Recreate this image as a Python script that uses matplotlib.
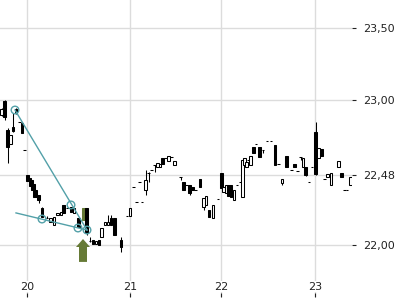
import matplotlib
matplotlib.use("Agg")
import matplotlib.pyplot as plt
import numpy as np
from matplotlib.patches import FancyArrow

## Datos =====================================================================
# posicion en el eje temporal (slots) y OHLC
pos = [1.5, 4.5, 7.5, 10.5, 13, 16, 19.5, 22, 24.5, 27.5, 30, 32, 34, 36, 38.5,
       42, 47, 50.5, 54, 57.5, 61, 63.5, 67.5, 71, 74, 78.5, 83.5, 86.5, 90, 93,
       96, 99, 101.5, 105, 108, 111, 114.5, 121, 127, 130, 133.5, 136.5, 139.5,
       142, 145.5, 148.5, 151.5, 154.5, 157.5, 160, 162.5, 165.5, 168.5, 171.5,
       174.5, 180.5, 183.5, 186.5, 189.5, 192.5, 195.5, 200, 203.5, 206, 209,
       213, 218, 221.5, 223.5, 226, 228.5, 231, 234, 237, 240, 242.5, 244.5,
       246.5, 248.5, 250.5, 253.5, 256, 259.5, 263, 267, 271, 275, 278.5, 282,
       286.5, 291.5, 294.5, 297.5, 300.5, 303, 305.5, 309, 312, 315.5, 318.5,
       321.5, 324.5, 327.5, 331, 338.5, 341.5, 344.5, 347, 350.5]
opens = [22.897, 22.993, 22.793, 22.697, 22.814, 22.938, 22.848, 22.841, 22.655,
         22.483, 22.462, 22.448, 22.421, 22.379, 22.345, 22.255, 22.186, 22.159,
         22.138, 22.207, 22.207, 22.276, 22.255, 22.262, 22.221, 22.186, 22.172,
         22.255, 22.028, 22.034, 22.007, 22.034, 22.055, 22.138, 22.138, 22.186,
         22.186, 22.034, 22.200, 22.200, 22.400, 22.297, 22.434, 22.297, 22.379,
         22.497, 22.517, 22.552, 22.538, 22.538, 22.600, 22.600, 22.579, 22.607,
         22.552, 22.469, 22.434, 22.414, 22.414, 22.400, 22.379, 22.455, 22.262,
         22.276, 22.241, 22.186, 22.317, 22.497, 22.366, 22.359, 22.414, 22.414,
         22.310, 22.414, 22.434, 22.331, 22.552, 22.538, 22.586, 22.552, 22.676,
         22.697, 22.676, 22.655, 22.717, 22.717, 22.690, 22.559, 22.428, 22.614,
         22.517, 22.559, 22.510, 22.607, 22.538, 22.538, 22.434, 22.538, 22.779,
         22.600, 22.662, 22.455, 22.469, 22.414, 22.538, 22.497, 22.379, 22.379,
         22.414]
highs = [22.945, 23.000, 22.807, 22.759, 22.910, 22.945, 22.848, 22.848, 22.655,
         22.483, 22.462, 22.448, 22.421, 22.379, 22.345, 22.262, 22.200, 22.186,
         22.193, 22.221, 22.228, 22.276, 22.255, 22.262, 22.255, 22.186, 22.255,
         22.255, 22.055, 22.034, 22.028, 22.034, 22.117, 22.159, 22.207, 22.207,
         22.186, 22.055, 22.200, 22.255, 22.400, 22.297, 22.434, 22.297, 22.517,
         22.503, 22.517, 22.552, 22.566, 22.559, 22.600, 22.600, 22.614, 22.607,
         22.579, 22.469, 22.434, 22.414, 22.414, 22.400, 22.379, 22.455, 22.324,
         22.338, 22.241, 22.276, 22.317, 22.497, 22.400, 22.414, 22.414, 22.414,
         22.379, 22.414, 22.434, 22.600, 22.600, 22.572, 22.586, 22.614, 22.676,
         22.697, 22.676, 22.655, 22.717, 22.717, 22.690, 22.559, 22.455, 22.614,
         22.517, 22.559, 22.510, 22.607, 22.600, 22.538, 22.434, 22.538, 22.848,
         22.669, 22.662, 22.455, 22.490, 22.497, 22.579, 22.497, 22.379, 22.379,
         22.469]
lows = [22.890, 22.862, 22.566, 22.697, 22.779, 22.903, 22.848, 22.772, 22.655,
        22.441, 22.407, 22.379, 22.331, 22.331, 22.290, 22.193, 22.186, 22.159,
        22.138, 22.207, 22.207, 22.221, 22.255, 22.228, 22.221, 22.124, 22.172,
        22.069, 22.021, 22.007, 22.007, 22.000, 22.055, 22.138, 22.138, 22.138,
        22.069, 21.952, 22.200, 22.200, 22.400, 22.297, 22.434, 22.297, 22.345,
        22.434, 22.517, 22.503, 22.538, 22.538, 22.559, 22.600, 22.579, 22.607,
        22.552, 22.448, 22.379, 22.414, 22.345, 22.379, 22.379, 22.400, 22.241,
        22.276, 22.193, 22.186, 22.317, 22.393, 22.366, 22.359, 22.338, 22.331,
        22.310, 22.414, 22.434, 22.331, 22.552, 22.538, 22.586, 22.552, 22.634,
        22.697, 22.607, 22.634, 22.717, 22.717, 22.552, 22.559, 22.414, 22.538,
        22.517, 22.538, 22.510, 22.586, 22.538, 22.476, 22.434, 22.538, 22.483,
        22.600, 22.614, 22.455, 22.469, 22.414, 22.538, 22.469, 22.379, 22.379,
        22.414]
closes = [22.938, 22.883, 22.676, 22.759, 22.786, 22.910, 22.848, 22.772, 22.655,
          22.441, 22.407, 22.379, 22.331, 22.331, 22.310, 22.193, 22.186, 22.186,
          22.193, 22.221, 22.228, 22.221, 22.255, 22.228, 22.255, 22.124, 22.255,
          22.083, 22.028, 22.007, 22.028, 22.000, 22.117, 22.159, 22.159, 22.138,
          22.069, 21.986, 22.200, 22.255, 22.400, 22.297, 22.434, 22.297, 22.448,
          22.497, 22.517, 22.552, 22.566, 22.559, 22.559, 22.600, 22.614, 22.607,
          22.579, 22.469, 22.379, 22.414, 22.359, 22.379, 22.379, 22.400, 22.324,
          22.338, 22.193, 22.276, 22.317, 22.393, 22.400, 22.414, 22.338, 22.331,
          22.379, 22.414, 22.434, 22.586, 22.600, 22.572, 22.586, 22.614, 22.634,
          22.697, 22.607, 22.655, 22.717, 22.717, 22.552, 22.559, 22.455, 22.538,
          22.517, 22.538, 22.510, 22.607, 22.600, 22.483, 22.434, 22.538, 22.490,
          22.669, 22.614, 22.455, 22.490, 22.497, 22.579, 22.469, 22.379, 22.379,
          22.469]
highlight = 83.5          # vela señalada con la flecha

day_pos = [27, 130, 221, 315]
day_labels = ["20", "21", "22", "23"]
price_ticks = [23.50, 23.00, 22.48, 22.00]
price_labels = ["23,50", "23,00", "22,48", "22,00"]

# Lineas de tendencia y puntos de contacto
trend1_x, trend1_y = [15, 87], [22.931, 22.103]
trend2_x, trend2_y = [16, 87], [22.221, 22.103]
touch_x = [15, 71, 42, 78, 87]
touch_y = [22.931, 22.276, 22.179, 22.117, 22.103]

arrow_x, arrow_base, arrow_tip = 83, 21.883, 22.041

teal = "#52a0a8"
olive = "#667a36"

## Visualización =============================================================
fig = plt.figure(figsize=(4, 3), dpi=100)
ax = fig.add_axes([0, 0.01, 0.88, 0.99])

pos = np.array(pos)
opens, closes = np.array(opens), np.array(closes)
up = closes >= opens
colors = np.where(up, "white", "black").astype(object)
colors[pos == highlight] = olive
edges = np.where(pos == highlight, olive, "black")

ax.vlines(pos, lows, highs, color="black", lw=0.75, zorder=2)
ax.bar(pos, closes - opens, bottom=opens, width=2.4, color=colors,
       edgecolor=edges, linewidth=0.75, zorder=3)

ax.plot(trend1_x, trend1_y, color=teal, lw=1.0, zorder=4)
ax.plot(trend2_x, trend2_y, color=teal, lw=1.0, zorder=4)
ax.scatter(touch_x, touch_y, s=30, facecolors="none", edgecolors=teal,
           linewidths=1.0, zorder=5)

ax.add_patch(FancyArrow(arrow_x, arrow_base, 0, arrow_tip - arrow_base,
                        width=8, head_width=14, head_length=0.055,
                        length_includes_head=True, color=olive, lw=0, zorder=6))

ax.set_xlim(0, 352)
ax.set_ylim(21.641, 23.690)

ax.yaxis.tick_right()
ax.set_yticks(price_ticks)
ax.set_yticklabels(price_labels)
ax.set_xticks(day_pos)
ax.set_xticklabels(day_labels)
ax.tick_params(axis="y", direction="out", length=3, width=0.8, pad=5,
               labelsize=8, colors="#222222")
ax.tick_params(axis="x", direction="in", length=3, width=0.8, pad=-11,
               labelsize=8, colors="#222222")
for lab in ax.get_xticklabels():
    lab.set_bbox(dict(facecolor="white", edgecolor="none", pad=0.5))

ax.grid(color="#dcdcdc", lw=1.0, zorder=0)
ax.set_axisbelow(True)
for s in ax.spines.values():
    s.set_visible(False)

plt.savefig("out.png", dpi=100)
